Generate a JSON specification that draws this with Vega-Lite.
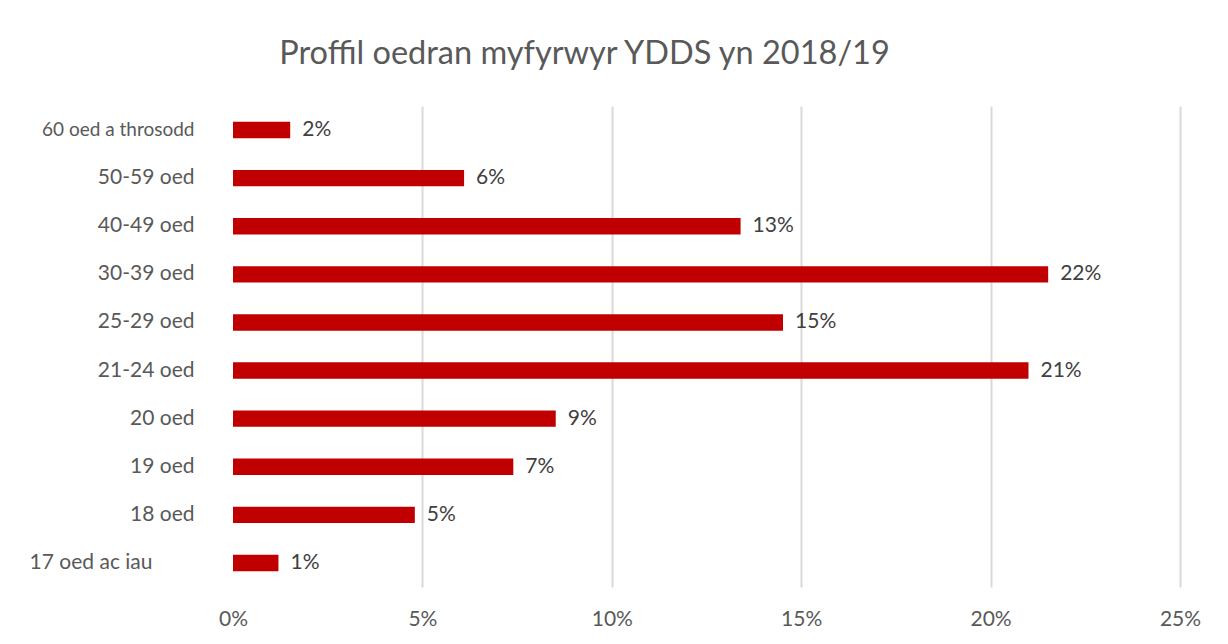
{
  "$schema": "https://vega.github.io/schema/vega-lite/v6.json",
  "width": 947,
  "height": 481,
  "autosize": {"type": "none"},
  "padding": {"left": 233, "top": 106, "right": 48, "bottom": 57},
  "background": "white",
  "title": {
    "text": "Proffil oedran myfyrwyr YDDS yn 2018/19",
    "font": "Lato",
    "fontSize": 32.5,
    "fontWeight": "normal",
    "color": "#595959",
    "anchor": "middle",
    "dx": -122,
    "offset": 36
  },
  "data": {
    "values": [
      {"age": "60 oed a throsodd", "value": 0.0151},
      {"age": "50-59 oed", "value": 0.061},
      {"age": "40-49 oed", "value": 0.134},
      {"age": "30-39 oed", "value": 0.2152},
      {"age": "25-29 oed", "value": 0.1452},
      {"age": "21-24 oed", "value": 0.21},
      {"age": "20 oed", "value": 0.0852},
      {"age": "19 oed", "value": 0.074},
      {"age": "18 oed", "value": 0.048},
      {"age": "17 oed ac iau", "value": 0.012}
    ]
  },
  "encoding": {
    "y": {
      "field": "age",
      "type": "nominal",
      "sort": null,
      "scale": {"paddingInner": 0.66, "paddingOuter": 0.33},
      "axis": {
        "title": null,
        "domain": false,
        "ticks": false,
        "labelPadding": {"condition": {"test": "datum.value === '17 oed ac iau'", "value": 81}, "value": 39},
        "labelFont": "Lato",
        "labelFontSize": {"condition": {"test": "datum.value === '60 oed a throsodd'", "value": 19}, "value": 21},
        "labelColor": "#595959",
        "labelLimit": 300
      }
    },
    "x": {
      "field": "value",
      "type": "quantitative",
      "scale": {"domain": [0, 0.25], "nice": false},
      "axis": {
        "title": null,
        "values": [0, 0.05, 0.1, 0.15, 0.2, 0.25],
        "format": ".0%",
        "domain": false,
        "ticks": false,
        "grid": true,
        "gridColor": {"condition": {"test": "datum.value === 0", "value": "transparent"}, "value": "#d9d9d9"},
        "gridWidth": 2,
        "labelFlush": false,
        "labelPadding": 21,
        "labelFont": "Lato",
        "labelFontSize": 21,
        "labelColor": "#595959"
      }
    }
  },
  "layer": [
    {"mark": {"type": "bar", "color": "#c00000"}},
    {
      "mark": {"type": "text", "align": "left", "baseline": "middle", "dx": 12, "font": "Lato", "fontSize": 21, "color": "#404040"},
      "encoding": {"text": {"field": "value", "type": "quantitative", "format": ".0%"}}
    }
  ],
  "config": {"view": {"stroke": null}}
}
